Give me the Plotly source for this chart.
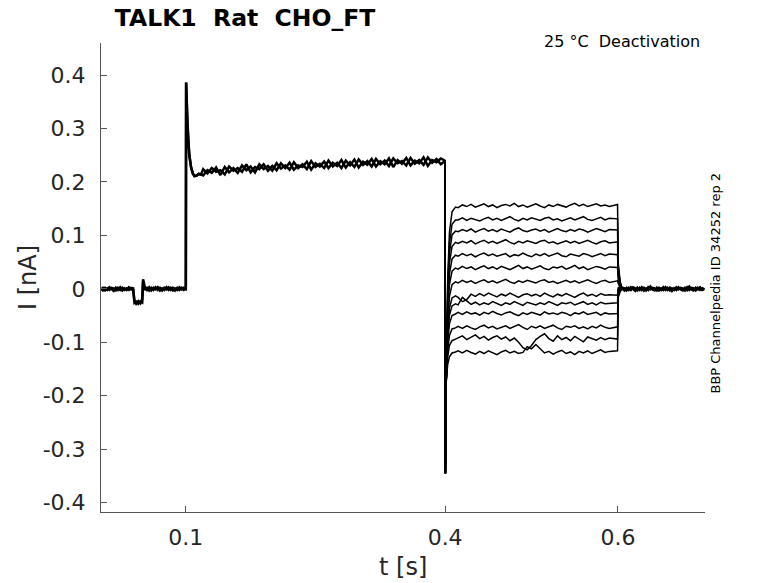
import plotly.graph_objects as go

# currents are read in pA, plotted in nA
# holding segment (all sweeps overlap, two noisy copies to get the band)
t_hold = [0.0015, 0.004, 0.0065, 0.009, 0.0115, 0.014, 0.0165, 0.019, 0.0215, 0.024,
          0.0265, 0.029, 0.0315, 0.034, 0.0365, 0.039, 0.0405, 0.0425, 0.045, 0.0475,
          0.0495, 0.0505, 0.0525, 0.055, 0.0575, 0.06, 0.0625, 0.065, 0.0675, 0.07,
          0.0725, 0.075, 0.0775, 0.08, 0.0825, 0.085, 0.0875, 0.09, 0.0925, 0.095,
          0.0975, 0.0999]
i_hold_a = [1, -3, 2, -2, 3, -1, -4, 2, -2, 3,
            -3, 1, -2, 3, -1, -2, -22, -28, -23, -27,
            -20, 18, 3, -2, 3, -3, 2, -1, 3, -3,
            1, -2, 3, -2, 2, -3, 1, -2, 3, -1,
            2, 0]
i_hold_b = [-2, 2, -3, 1, -2, 2, 1, -3, 2, -2,
            2, -2, 1, -2, 2, 1, -26, -24, -28, -23,
            -25, 14, -2, 2, -3, 2, -2, 3, -2, 2,
            -3, 2, -1, 3, -2, 2, -3, 2, -2, 2,
            -2, -1]

# activating step, onset transient then plateau
t_pulse_on = [0.1, 0.1003, 0.1008, 0.1015, 0.1025, 0.104, 0.106, 0.108, 0.110, 0.1125, 0.115, 0.1175]
i_pulse_on = [0, 386, 360, 322, 282, 250, 228, 216, 211, 212, 215, 214]
t_pulse = [0.12, 0.125, 0.13, 0.135, 0.14, 0.145, 0.15, 0.155, 0.16, 0.165,
           0.17, 0.175, 0.18, 0.185, 0.19, 0.195, 0.2, 0.205, 0.21, 0.215,
           0.22, 0.225, 0.23, 0.235, 0.24, 0.245, 0.25, 0.255, 0.26, 0.265,
           0.27, 0.275, 0.28, 0.285, 0.29, 0.295, 0.3, 0.305, 0.31, 0.315,
           0.32, 0.325, 0.33, 0.335, 0.34, 0.345, 0.35, 0.355, 0.36, 0.365,
           0.37, 0.375, 0.38, 0.385, 0.39, 0.395, 0.3998]
i_pulse_a = [224, 216, 226, 219, 222, 214, 229, 221, 226, 219,
             233, 218, 228, 224, 233, 221, 230, 222, 235, 226,
             236, 223, 231, 228, 238, 223, 235, 229, 238, 226,
             236, 230, 241, 227, 237, 228, 242, 232, 239, 229,
             243, 233, 240, 230, 244, 235, 239, 231, 245, 234,
             241, 232, 246, 236, 243, 233, 239]
i_pulse_b = [212, 222, 217, 227, 213, 228, 218, 226, 217, 231,
             222, 229, 218, 233, 224, 230, 221, 235, 225, 231,
             223, 237, 226, 233, 224, 239, 228, 234, 226, 240,
             229, 236, 226, 240, 231, 242, 227, 238, 232, 243,
             229, 239, 233, 244, 228, 241, 234, 245, 231, 240,
             235, 246, 230, 241, 237, 244, 240]

# deactivation tails, 13 sweeps
t_tail_start = [0.4, 0.4003, 0.4008]
i_tail_start = [240, -345, -260]
t_tail_rec = [0.4012, 0.403, 0.405, 0.408, 0.412]
tail_rec = [
    [-175, 20, 106, 144, 153],
    [-175, 6, 85, 121, 129],
    [-175, -7, 67, 101, 108],
    [-175, -20, 49, 79, 87],
    [-175, -34, 28, 56, 63],
    [-175, -48, 8, 33, 39],
    [-175, -63, -14, 8, 13],
    [-175, -79, -36, -17, -13],
    [-175, -88, -49, -32, -28],
    [-175, -99, -65, -50, -47],
    [-175, -114, -87, -75, -73],
    [-175, -127, -106, -97, -94],
    [-175, -141, -127, -120, -118],
]
t_tail = [0.415, 0.42, 0.425, 0.43, 0.435, 0.44, 0.445, 0.45, 0.455, 0.46,
          0.465, 0.47, 0.475, 0.48, 0.485, 0.49, 0.495, 0.5, 0.505, 0.51,
          0.515, 0.52, 0.525, 0.53, 0.535, 0.54, 0.545, 0.55, 0.555, 0.56,
          0.565, 0.57, 0.575, 0.58, 0.585, 0.59, 0.5995]
tail_levels = [
    [152, 157, 154, 158, 153, 156, 159, 154, 157, 152, 156, 158, 155, 160, 154, 157, 153, 156, 159,
     155, 152, 157, 154, 158, 156, 153, 157, 160, 155, 158, 154, 156, 159, 155, 157, 154, 158],
    [129, 133, 128, 132, 130, 127, 131, 134, 129, 132, 128, 131, 135, 130, 127, 132, 129, 133, 130,
     128, 132, 134, 129, 131, 127, 130, 133, 129, 132, 135, 130, 128, 131, 134, 129, 132, 131],
    [107, 111, 108, 112, 106, 110, 113, 108, 111, 107, 112, 109, 106, 111, 114, 109, 107, 110, 112,
     108, 111, 106, 110, 113, 109, 107, 111, 108, 112, 110, 106, 109, 113, 110, 107, 111, 110],
    [85, 89, 86, 90, 84, 88, 91, 86, 89, 85, 88, 92, 87, 84, 89, 86, 90, 87, 85,
     89, 91, 86, 88, 84, 87, 90, 86, 89, 85, 88, 91, 87, 84, 88, 90, 86, 88],
    [61, 66, 62, 65, 60, 64, 67, 62, 65, 61, 63, 66, 60, 64, 62, 67, 63, 60, 65,
     62, 66, 61, 64, 67, 62, 60, 65, 63, 61, 66, 64, 60, 63, 66, 62, 65, 64],
    [37, 42, 38, 41, 36, 40, 43, 38, 41, 37, 42, 39, 36, 40, 44, 38, 41, 37, 40,
     43, 38, 36, 41, 39, 42, 37, 40, 44, 38, 41, 36, 39, 42, 40, 37, 41, 40],
    [11, 16, 12, 15, 10, 14, 17, 12, 15, 11, 14, 18, 13, 10, 15, 12, 16, 13, 11,
     15, 17, 12, 14, 10, 13, 16, 12, 15, 11, 14, 17, 13, 10, 14, 16, 12, 15],
    [-16, -24, -20, -10, -14, -9, -13, -8, -12, -15, -10, -13, -8, -12, -16, -11, -9, -13, -10,
     -14, -8, -12, -15, -10, -13, -9, -12, -16, -11, -8, -13, -10, -14, -9, -12, -11, -12],
    [-30, -16, -22, -29, -25, -30, -26, -29, -24, -28, -31, -26, -29, -24, -27, -31, -25, -28, -30,
     -26, -29, -24, -27, -31, -26, -28, -25, -30, -27, -24, -29, -26, -30, -25, -28, -27, -26],
    [-44, -48, -43, -47, -45, -49, -44, -47, -42, -46, -49, -45, -43, -47, -50, -45, -48, -44, -46,
     -49, -43, -47, -45, -48, -44, -46, -50, -45, -47, -43, -48, -46, -44, -49, -45, -47, -46],
    [-70, -74, -69, -73, -76, -71, -68, -73, -70, -75, -72, -69, -74, -71, -67, -72, -76, -70, -73,
     -69, -74, -71, -68, -73, -76, -70, -72, -69, -74, -71, -75, -70, -73, -68, -72, -74, -71],
    [-92, -88, -95, -90, -86, -93, -89, -96, -91, -88, -94, -90, -97, -92, -100, -110, -114, -106, -95,
     -89, -84, -93, -98, -88, -95, -91, -97, -89, -94, -99, -90, -93, -96, -91, -95, -92, -94],
    [-116, -120, -115, -119, -122, -117, -121, -116, -120, -123, -118, -115, -120, -117, -121, -119, -108, -112, -104,
     -113, -120, -117, -122, -118, -115, -121, -118, -123, -117, -120, -116, -121, -118, -114, -119, -117, -116],
]
t_tail_off = [0.6003, 0.6025]
tail_off = [[48, 14], [42, 12], [36, 10], [30, 8], [24, 6], [17, 4], [10, 2],
            [3, 0], [-1, -1], [-5, -2], [-9, -3], [-13, -4], [-16, -5]]

# back to holding
t_post = [0.605, 0.6075, 0.61, 0.6125, 0.615, 0.6175, 0.62, 0.6225, 0.625, 0.6275,
          0.63, 0.6325, 0.635, 0.6375, 0.64, 0.6425, 0.645, 0.6475, 0.65, 0.6525,
          0.655, 0.6575, 0.66, 0.6625, 0.665, 0.6675, 0.67, 0.6725, 0.675, 0.6775,
          0.68, 0.6825, 0.685, 0.6875, 0.69, 0.6925, 0.695, 0.6975, 0.7]
i_post_a = [0, -3, 2, -2, 3, -1, -4, 2, -2, 3,
            -3, 1, -2, 4, -1, -3, 2, -3, 1, -2,
            3, -2, 2, -4, 1, -2, 3, -1, -3, 2,
            -2, 4, -1, -3, 2, -1, 3, -2, 0]
i_post_b = [2, 1, -3, 2, -2, 3, 1, -3, 2, -2,
            2, -3, 3, -1, 2, 1, -3, 2, -2, 3,
            -2, 2, -3, 1, -2, 3, -1, 2, 1, -3,
            3, -2, 2, 1, -3, 2, -2, 1, -1]

x_ticks = [0.1, 0.4, 0.6]
y_ticks = [-0.4, -0.3, -0.2, -0.1, 0, 0.1, 0.2, 0.3, 0.4]

FONT = 'DejaVu Sans'


def to_nA(vals):
    return [v / 1000 for v in vals]


data = []
for i_hold, i_pulse in [(i_hold_a, i_pulse_a), (i_hold_b, i_pulse_b)]:
    data.append(go.Scatter(
        x=t_hold + t_pulse_on + t_pulse,
        y=to_nA(i_hold + i_pulse_on + i_pulse),
        mode='lines',
        line=dict(color='black', width=2.5),
    ))
for k in range(len(tail_levels)):
    data.append(go.Scatter(
        x=t_tail_start + t_tail_rec + t_tail + t_tail_off + t_post[:1],
        y=to_nA(i_tail_start + tail_rec[k] + tail_levels[k] + tail_off[k] + i_post_a[:1]),
        mode='lines',
        line=dict(color='black', width=1.5),
    ))
for i_post in [i_post_a, i_post_b]:
    data.append(go.Scatter(
        x=t_post,
        y=to_nA(i_post),
        mode='lines',
        line=dict(color='black', width=2.5),
    ))

axis_style = dict(
    showgrid=False,
    zeroline=False,
    showline=True,
    linecolor='#555555',
    linewidth=1,
    ticks='inside',
    ticklen=6,
    tickcolor='#555555',
    tickfont=dict(family=FONT, size=22, color='#262626'),
)

fig = go.Figure(
    data=data,
    layout=go.Layout(
        width=778,
        height=583,
        showlegend=False,
        plot_bgcolor='white',
        paper_bgcolor='white',
        margin=dict(l=101, r=73, t=43, b=71),
        title=dict(
            text='<b>TALK1\u00a0\u00a0Rat\u00a0\u00a0CHO_FT</b>',
            x=0.315, xanchor='center',
            y=0.969, yanchor='middle',
            font=dict(family=FONT, size=23.5, color='black'),
        ),
        xaxis=dict(
            range=[0.0018, 0.7007],
            tickvals=x_ticks,
            ticktext=[f'{v:g}' for v in x_ticks],
            ticklabelstandoff=6,
            **axis_style,
        ),
        yaxis=dict(
            range=[-0.4175, 0.46],
            tickvals=y_ticks,
            ticktext=[f'{v:g}' for v in y_ticks],
            ticklabelstandoff=10,
            **axis_style,
        ),
        annotations=[
            dict(text='I [nA]', xref='paper', yref='paper', x=-0.1217, y=0.5,
                 xanchor='center', yanchor='middle', textangle=-90, showarrow=False,
                 font=dict(family=FONT, size=24, color='#262626')),
            dict(text='t [s]', xref='paper', yref='paper', x=0.5, y=-0.117,
                 xanchor='center', yanchor='middle', showarrow=False,
                 font=dict(family=FONT, size=24, color='#262626')),
            dict(text='25 °C\u00a0\u00a0Deactivation', xref='paper', yref='paper',
                 x=0.995, y=1.004, xanchor='right', yanchor='middle', showarrow=False,
                 font=dict(family=FONT, size=16, color='black')),
            dict(text='BBP Channelpedia ID 34252 rep 2', xref='paper', yref='paper',
                 x=1.018, y=0.489, xanchor='center', yanchor='middle', textangle=-90,
                 showarrow=False, font=dict(family=FONT, size=13, color='black')),
        ],
    ),
)

fig.write_html("out.html", config={'displayModeBar': False},
               post_script="document.body.style.margin = '0';")
